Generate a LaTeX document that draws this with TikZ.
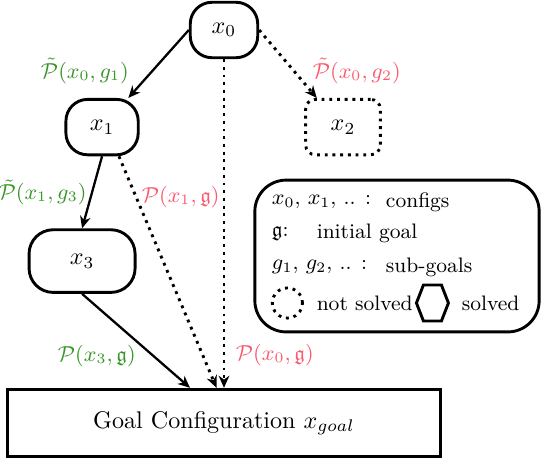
\documentclass[tikz,border=0pt]{standalone}
\usepackage{amssymb}
\usepackage{tikz}
\usetikzlibrary{shapes.geometric, arrows, arrows.meta}
\definecolor{subgreen}{RGB}{56,150,40}
\definecolor{failred}{RGB}{250,90,110}
\tikzstyle{solved} = [rectangle, rounded corners=9pt, minimum width=28pt, minimum height=23pt, text centered, draw=black, very thick]
\tikzstyle{unsolved} = [rectangle, rounded corners=4pt, minimum width=31pt, minimum height=23pt, text centered, draw=black, very thick, dotted]
\tikzstyle{goalbox} = [rectangle, minimum width=180pt, minimum height=28pt, text centered, draw=black, very thick]
\tikzstyle{legendbox} = [rectangle, rounded corners=13pt, minimum width=118pt, minimum height=63pt, draw=black, very thick]
\tikzstyle{legtext} = [anchor=west, inner sep=0pt, font=\fontsize{8.7}{10}\selectfont]
\tikzstyle{cost} = [font=\fontsize{8.7}{10}\selectfont]
\tikzstyle{arrow} = [line width=0.95pt,->,>={Stealth[length=5pt,width=4.4pt]}]
\tikzstyle{tryarrow} = [very thick,dotted,->,>={Stealth[length=5pt,width=4.4pt]}]

\begin{document}
\begin{tikzpicture}[x=0.415pt, y=0.415pt, node distance=40.3pt]
\useasboundingbox (0,0) rectangle (542,-460);
\node (x0) [solved] at (224,-30) {$x_0$};
\node (x1) [solved, below of=x0, xshift=-50.6pt, minimum width=30pt] {$x_1$};
\node (x2) [unsolved, below of=x0, xshift=49.4pt] {$x_2$};
\node (x3) [solved, below of=x1, xshift=-8.3pt, yshift=-15.3pt, minimum width=44pt, minimum height=26pt, rounded corners=10pt] {$x_3$};
\node (goal) [goalbox, below of=x0, yshift=-122.8pt] {Goal Configuration $x_{goal}$};

% legend
\node (legend) [legendbox, below of=x2, xshift=22.4pt, yshift=-13.2pt] {};
\node (leg1) [legtext] at ([xshift=7.5pt, yshift=22.4pt]legend.west) {$x_0$, $x_1$, .. :};
\node (leg1b) [legtext] at ([xshift=54.8pt, yshift=22.4pt]legend.west) {configs};
\node (leg2) [legtext] at ([xshift=7.5pt, yshift=9.5pt]legend.west) {$\mathfrak{g}$:};
\node (leg2b) [legtext] at ([xshift=26.1pt, yshift=9.5pt]legend.west) {initial goal};
\node (leg3) [legtext] at ([xshift=7.5pt, yshift=-4.6pt]legend.west) {$g_1$, $g_2$, .. :};
\node (leg3b) [legtext] at ([xshift=54.8pt, yshift=-4.6pt]legend.west) {sub-goals};
\node (legopen) [circle, draw=black, very thick, dotted, minimum size=12.5pt, inner sep=0pt] at ([xshift=14.1pt, yshift=-19.5pt]legend.west) {};
\node (leg4) [legtext] at ([xshift=26.1pt, yshift=-19.5pt]legend.west) {not solved};
\coordinate (legdone) at ([xshift=74.3pt, yshift=-19.5pt]legend.west);
\draw [very thick] (legdone) ++(-9,18) -- ++(18,0) -- ++(7,-18) -- ++(-7,-18) -- ++(-18,0) -- ++(-7,18) -- cycle;
\node (leg5) [legtext] at ([xshift=86.3pt, yshift=-19.5pt]legend.west) {solved};

\draw [arrow] (x0.west) -- node (lx0g1) [cost, pos=0.6, anchor=east, xshift=-6pt, text=subgreen] {$\tilde{\mathcal{P}}(x_0, g_1)$} (x1.48);
\draw [tryarrow] (x0.east) -- node (lx0g2) [cost, pos=0.6, anchor=west, xshift=4pt, text=failred] {$\tilde{\mathcal{P}}(x_0, g_2)$} (x2.132);
\draw [arrow] (x1.south) -- node (lx1g3) [cost, anchor=east, xshift=1.5pt, text=subgreen] {$\tilde{\mathcal{P}}(x_1, g_3)$} (x3.north);
\draw [tryarrow] (x1.-60) -- node (lx1g) [cost, pos=0.175, anchor=west, xshift=-1.5pt, text=failred] {$\mathcal{P}(x_1, \mathfrak{g})$} (goal.102);
\draw [arrow] (x3.south) -- node (lx3g) [cost, pos=0.66, anchor=east, xshift=-3.5pt, text=subgreen] {$\mathcal{P}(x_3, \mathfrak{g})$} (goal.134);
\draw [tryarrow] (x0.south) -- node (lx0g) [cost, pos=0.9, anchor=west, xshift=1pt, text=failred] {$\mathcal{P}(x_0, \mathfrak{g})$} (x0.south |- goal.north);

\end{tikzpicture}
\end{document}
